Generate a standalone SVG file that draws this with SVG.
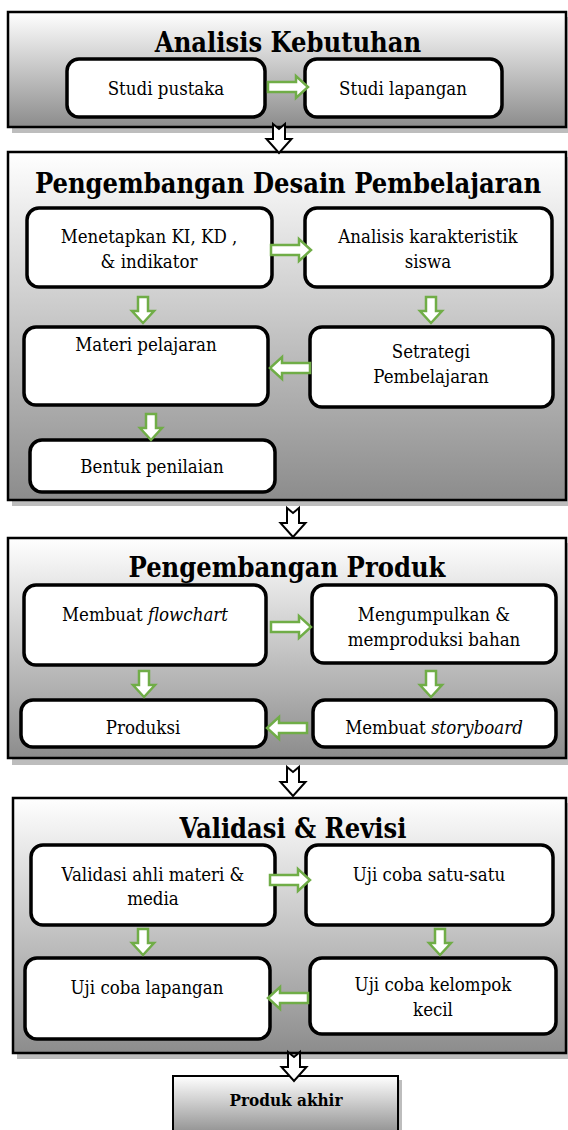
<svg xmlns="http://www.w3.org/2000/svg" width="568" height="1130" viewBox="0 0 568 1130">
<defs>
<linearGradient id="pg" x1="0" y1="0" x2="0" y2="1">
<stop offset="0" stop-color="#ffffff"/>
<stop offset="1" stop-color="#8c8c8c"/>
</linearGradient>
<path id="ga" d="M-20,-5 H8 V-11 L20,0 L8,11 V5 H-20 Z"/>
<path id="gd" d="M-5,-13 H5 V1 H11 L0,13 L-11,1 H-5 Z"/>
<path id="ba" d="M-6,-14 L0,-9 L6,-14 V1 H12.5 L0,15 L-12.5,1 H-6 Z"/>
</defs>
<style>
.panel{fill:url(#pg);stroke:#000;stroke-width:2.5}
.shadow{fill:#bdbdbd}
.node{fill:#fff;stroke:#000;stroke-width:3.5}
text{font-family:"DejaVu Serif Condensed","DejaVu Serif",serif;fill:#000;text-anchor:middle;font-stretch:condensed}
.title{font-weight:bold;font-size:27px}
.t{font-size:18.5px}
.green{fill:#fff;stroke:#70ad47;stroke-width:2.5;stroke-linejoin:miter}
.black{fill:#fff;stroke:#000;stroke-width:2}
</style>
<rect width="568" height="1130" fill="#fff"/>

<g id="panel1">
<rect class="shadow" x="12" y="17" width="558" height="116"/>
<rect class="panel" x="8" y="12" width="558" height="115"/>
<text class="title" x="288" y="52">Analisis Kebutuhan</text>
</g>
<g id="panel2">
<rect class="shadow" x="12" y="157" width="558" height="349"/>
<rect class="panel" x="8" y="152" width="558" height="348"/>
<text class="title" x="288" y="193">Pengembangan Desain Pembelajaran</text>
</g>
<g id="panel3">
<rect class="shadow" x="12" y="543" width="558" height="222"/>
<rect class="panel" x="8" y="538" width="558" height="220"/>
<text class="title" x="287" y="577">Pengembangan Produk</text>
</g>
<g id="panel4">
<rect class="shadow" x="17" y="803" width="553" height="256"/>
<rect class="panel" x="13" y="798" width="553" height="255"/>
<text class="title" x="293" y="838">Validasi &amp; Revisi</text>
</g>

<g id="studi-pustaka"><rect class="node" x="67" y="59" width="198" height="58" rx="12"/><text class="t" x="166" y="95">Studi pustaka</text></g>
<g id="studi-lapangan"><rect class="node" x="305" y="59" width="197" height="58" rx="12"/><text class="t" x="403" y="95">Studi lapangan</text></g>

<g id="menetapkan"><rect class="node" x="27" y="208" width="245" height="79" rx="12"/><text class="t" x="149" y="243">Menetapkan KI, KD ,</text><text class="t" x="149" y="268">&amp; indikator</text></g>
<g id="analisis"><rect class="node" x="305" y="208" width="247" height="79" rx="12"/><text class="t" x="428" y="243">Analisis karakteristik</text><text class="t" x="428" y="268">siswa</text></g>
<g id="materi"><rect class="node" x="24" y="327" width="244" height="78" rx="12"/><text class="t" x="146" y="351">Materi pelajaran</text></g>
<g id="setrategi"><rect class="node" x="310" y="327" width="243" height="80" rx="12"/><text class="t" x="431" y="358">Setrategi</text><text class="t" x="431" y="383">Pembelajaran</text></g>
<g id="bentuk"><rect class="node" x="30" y="440" width="245" height="52" rx="12"/><text class="t" x="152" y="473">Bentuk penilaian</text></g>

<g id="flowchart"><rect class="node" x="24" y="585" width="242" height="80" rx="12"/><text class="t" x="145" y="621">Membuat <tspan font-style="italic">flowchart</tspan></text></g>
<g id="mengumpulkan"><rect class="node" x="312" y="585" width="244" height="78" rx="12"/><text class="t" x="434" y="621">Mengumpulkan &amp;</text><text class="t" x="434" y="646">memproduksi bahan</text></g>
<g id="produksi"><rect class="node" x="21" y="700" width="245" height="47" rx="12"/><text class="t" x="143" y="734">Produksi</text></g>
<g id="storyboard"><rect class="node" x="313" y="700" width="243" height="47" rx="12"/><text class="t" x="434" y="734">Membuat <tspan font-style="italic">storyboard</tspan></text></g>

<g id="validasi"><rect class="node" x="31" y="845" width="244" height="80" rx="12"/><text class="t" x="153" y="881">Validasi ahli materi &amp;</text><text class="t" x="153" y="905">media</text></g>
<g id="satu-satu"><rect class="node" x="306" y="845" width="247" height="80" rx="12"/><text class="t" x="429" y="881">Uji coba satu-satu</text></g>
<g id="lapangan"><rect class="node" x="25" y="958" width="245" height="81" rx="12"/><text class="t" x="147" y="994">Uji coba lapangan</text></g>
<g id="kelompok"><rect class="node" x="310" y="958" width="246" height="76" rx="12"/><text class="t" x="433" y="991">Uji coba kelompok</text><text class="t" x="433" y="1016">kecil</text></g>

<g id="produk-akhir">
<rect class="shadow" x="177" y="1080" width="225" height="60"/>
<rect x="173" y="1076" width="225" height="60" fill="url(#pg)" stroke="#000" stroke-width="2"/>
<text x="286" y="1106" font-weight="bold" font-size="17">Produk akhir</text>
</g>

<g id="connectors">
<use href="#ga" class="green" transform="translate(288,87)"/>
<use href="#ga" class="green" transform="translate(291,250)"/>
<use href="#gd" class="green" transform="translate(143,310)"/>
<use href="#gd" class="green" transform="translate(431,310)"/>
<use href="#ga" class="green" transform="translate(290,368) rotate(180)"/>
<use href="#gd" class="green" transform="translate(151,427)"/>
<use href="#ga" class="green" transform="translate(291,627)"/>
<use href="#gd" class="green" transform="translate(144,684)"/>
<use href="#gd" class="green" transform="translate(431,684)"/>
<use href="#ga" class="green" transform="translate(287,728) rotate(180)"/>
<use href="#ga" class="green" transform="translate(290,880)"/>
<use href="#gd" class="green" transform="translate(143,942)"/>
<use href="#gd" class="green" transform="translate(440,942)"/>
<use href="#ga" class="green" transform="translate(288,998) rotate(180)"/>
<use href="#ba" class="black" transform="translate(279,138)"/>
<use href="#ba" class="black" transform="translate(293,522)"/>
<use href="#ba" class="black" transform="translate(293,781)"/>
<use href="#ba" class="black" transform="translate(294,1066)"/>
</g>
</svg>
